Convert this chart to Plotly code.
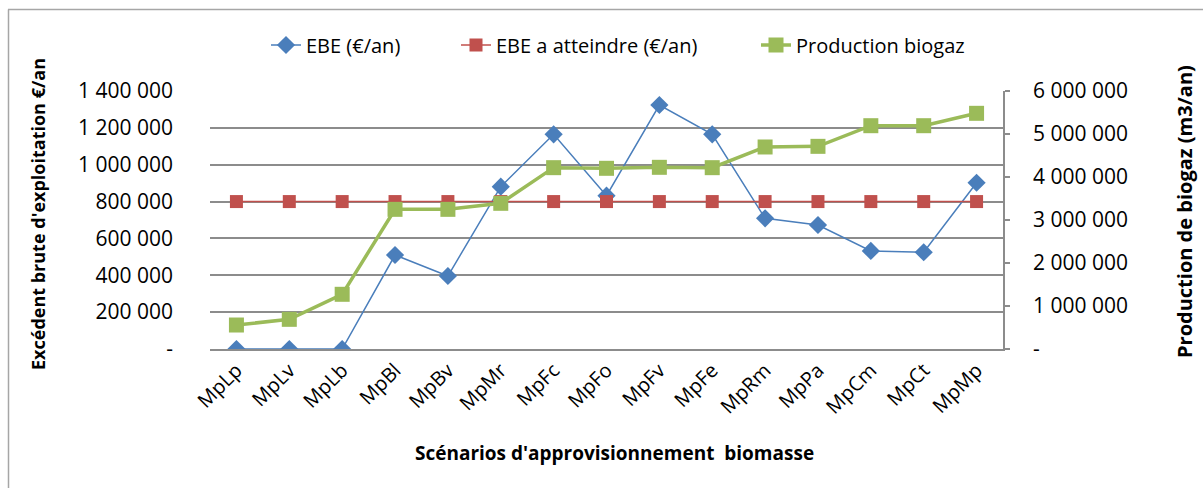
import plotly.graph_objects as go

# Scénarios d'approvisionnement en biomasse
scenarios = ["MpLp", "MpLv", "MpLb", "MpBl", "MpBv", "MpMr", "MpFc", "MpFo",
             "MpFv", "MpFe", "MpRm", "MpPa", "MpCm", "MpCt", "MpMp"]

# Excédent brut d'exploitation (€/an)
ebe = [0, 0, 0, 510000, 396000, 881000, 1165000, 832000,
       1324000, 1165000, 709000, 673000, 532000, 525000, 902000]

# EBE à atteindre (€/an)
ebe_cible = [800000] * 15

# Production de biogaz (m3/an)
biogaz = [558000, 690000, 1272000, 3248000, 3248000, 3388000, 4217000, 4202000,
          4225000, 4217000, 4698000, 4713000, 5193000, 5193000, 5481000]

left_ticks = [0, 200000, 400000, 600000, 800000, 1000000, 1200000, 1400000]
left_text = ["-", "200 000", "400 000", "600 000", "800 000",
             "1 000 000", "1 200 000", "1 400 000"]
right_ticks = [0, 1000000, 2000000, 3000000, 4000000, 5000000, 6000000]
right_text = ["-", "1 000 000", "2 000 000", "3 000 000", "4 000 000",
              "5 000 000", "6 000 000"]

FONT = "Open Sans"
GRID = "#8c8c8c"
BLUE = "#4a7ebb"
RED = "#c0504d"
GREEN = "#9bbb59"

W, H = 1203, 488
L, R, T, B = 210, 200, 91, 139
pw = W - L - R
ph = H - T - B


def px_x(x):
    return (x - L) / pw


def px_y(y):
    return 1 - (y - T) / ph


fig = go.Figure()
fig.add_trace(go.Scatter(
    x=scenarios, y=ebe, name="EBE (€/an)", mode="lines+markers",
    line=dict(color=BLUE, width=1.5),
    marker=dict(symbol="diamond", size=14, color=BLUE),
    legend="legend",
))
fig.add_trace(go.Scatter(
    x=scenarios, y=ebe_cible, name="EBE a atteindre (€/an)", mode="lines+markers",
    line=dict(color=RED, width=1.5),
    marker=dict(symbol="square", size=13, color=RED),
    legend="legend2",
))
fig.add_trace(go.Scatter(
    x=scenarios, y=biogaz, name="Production biogaz", mode="lines+markers",
    yaxis="y2",
    line=dict(color=GREEN, width=3.5),
    marker=dict(symbol="square", size=15, color=GREEN),
    legend="legend3",
))


def legend_at(xpx):
    return dict(
        orientation="h", x=px_x(xpx), y=px_y(45), xanchor="left", yanchor="middle",
        font=dict(family=FONT, size=20, color="black"),
        itemwidth=30, bgcolor="rgba(0,0,0,0)",
    )


fig.update_layout(
    width=W, height=H,
    margin=dict(l=L, r=R, t=T, b=B, pad=0),
    paper_bgcolor="white", plot_bgcolor="white",
    font=dict(family=FONT, size=20, color="black"),
    showlegend=True,
    legend=legend_at(266),
    legend2=legend_at(456),
    legend3=legend_at(756),
    xaxis=dict(
        type="category", range=[-0.5, 14.5],
        showgrid=False, showline=True, linecolor=GRID, linewidth=1.5,
        ticks="", tickangle=-45, tickfont=dict(family=FONT, size=20),
        zeroline=False,
    ),
    yaxis=dict(
        range=[0, 1400000], tickvals=left_ticks, ticktext=left_text,
        showgrid=True, gridcolor=GRID, gridwidth=1.5,
        showline=False, ticks="", zeroline=False,
        tickfont=dict(family=FONT, size=21), ticklabelstandoff=36,
    ),
    yaxis2=dict(
        range=[0, 6000000], tickvals=right_ticks, ticktext=right_text,
        overlaying="y", side="right", showgrid=False,
        showline=True, linecolor=GRID, linewidth=1.5,
        ticks="outside", ticklen=5, tickcolor=GRID, tickwidth=1.5,
        zeroline=False, tickfont=dict(family=FONT, size=21),
        ticklabelstandoff=19,
    ),
    annotations=[
        dict(text="<b>Excédent brute d'exploitation €/an</b>", textangle=-90,
             xref="paper", yref="paper", x=px_x(38), y=px_y(214),
             xanchor="center", yanchor="middle", showarrow=False,
             font=dict(family=FONT, size=18)),
        dict(text="<b>Production de biogaz (m3/an)</b>", textangle=-90,
             xref="paper", yref="paper", x=px_x(1184), y=px_y(212),
             xanchor="center", yanchor="middle", showarrow=False,
             font=dict(family=FONT, size=20)),
        dict(text="<b>Scénarios d'approvisionnement  biomasse</b>",
             xref="paper", yref="paper", x=px_x(614), y=px_y(453),
             xanchor="center", yanchor="middle", showarrow=False,
             font=dict(family=FONT, size=19)),
    ],
    shapes=[
        dict(type="line", xref="paper", yref="paper",
             x0=px_x(8), x1=px_x(1210), y0=px_y(9.5), y1=px_y(9.5),
             line=dict(color="#a6a6a6", width=1.5)),
        dict(type="line", xref="paper", yref="paper",
             x0=px_x(8.5), x1=px_x(8.5), y0=px_y(9.5), y1=px_y(495),
             line=dict(color="#a6a6a6", width=1.5)),
    ],
)

fig.write_html("out.html")
